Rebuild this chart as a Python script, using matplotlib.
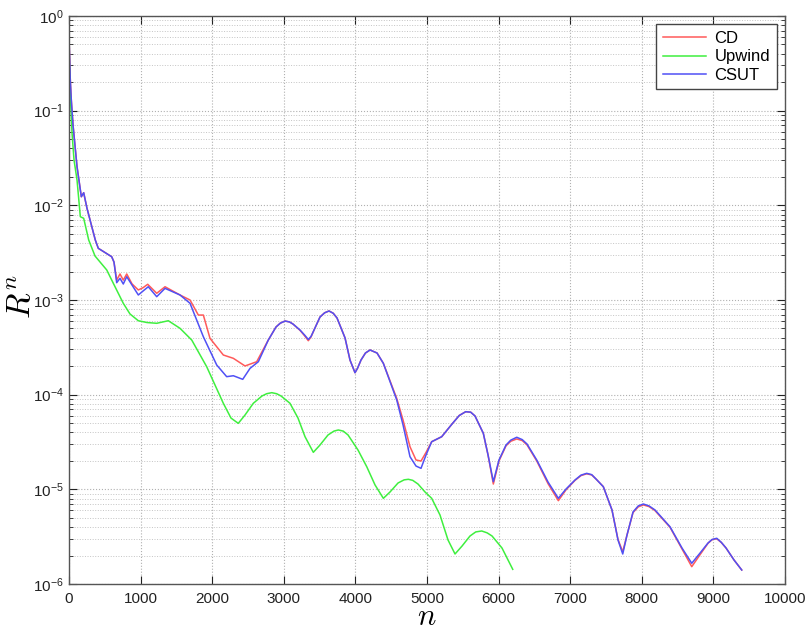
import matplotlib
matplotlib.use('Agg')
import numpy as np
import matplotlib.pyplot as plt
from matplotlib.ticker import LogLocator, NullFormatter, MultipleLocator

# residual history, stored as iteration n and log10(R^n)
n_csut = [4, 18, 32, 56, 112, 172, 205, 251, 367, 409, 596, 628, 666, 712, 758,
          806, 880, 968, 1034, 1107, 1225, 1341, 1550, 1690, 1876, 2063, 2202,
          2295, 2426, 2528, 2644, 2783, 2891, 2950, 3017, 3080, 3128, 3226, 3290,
          3342, 3380, 3422, 3505, 3570, 3631, 3690, 3743, 3855, 3924, 3994, 4030,
          4078, 4140, 4204, 4302, 4390, 4577, 4665, 4762, 4846, 4916, 4986, 5065,
          5205, 5349, 5450, 5540, 5610, 5670, 5786, 5852, 5926, 6005, 6103, 6170,
          6253, 6330, 6396, 6532, 6690, 6834, 6941, 7067, 7150, 7230, 7300, 7360,
          7462, 7583, 7667, 7733, 7793, 7877, 7950, 8021, 8100, 8184, 8393, 8561,
          8697, 8813, 8924, 8980, 9046, 9110, 9176, 9287, 9395]
log_csut = [-0.324, -0.676, -0.887, -1.152, -1.592, -1.909, -1.867, -2.031, -2.366,
            -2.454, -2.543, -2.599, -2.817, -2.771, -2.831, -2.754, -2.842, -2.947,
            -2.905, -2.860, -2.965, -2.877, -2.947, -3.035, -3.388, -3.687, -3.810,
            -3.800, -3.838, -3.722, -3.652, -3.423, -3.285, -3.245, -3.222, -3.232,
            -3.254, -3.317, -3.370, -3.417, -3.385, -3.317, -3.180, -3.135, -3.116,
            -3.140, -3.190, -3.401, -3.634, -3.768, -3.720, -3.634, -3.560, -3.528,
            -3.560, -3.669, -4.056, -4.320, -4.655, -4.754, -4.778, -4.637, -4.497,
            -4.444, -4.310, -4.220, -4.180, -4.185, -4.225, -4.408, -4.637, -4.919,
            -4.690, -4.532, -4.480, -4.450, -4.475, -4.521, -4.690, -4.923, -5.095,
            -4.997, -4.901, -4.850, -4.831, -4.845, -4.891, -4.972, -5.218, -5.535,
            -5.683, -5.482, -5.239, -5.175, -5.155, -5.175, -5.218, -5.395, -5.620,
            -5.781, -5.673, -5.567, -5.530, -5.517, -5.560, -5.620, -5.746, -5.852]

n_cd = [4, 18, 32, 56, 112, 172, 205, 251, 367, 409, 596, 628, 666, 712, 758,
        806, 880, 968, 1034, 1099, 1225, 1341, 1550, 1690, 1806, 1876, 1969, 2155,
        2295, 2458, 2621, 2783, 2891, 2950, 3017, 3080, 3128, 3226, 3290, 3342,
        3380, 3422, 3505, 3570, 3631, 3690, 3743, 3855, 3924, 3994, 4030, 4078,
        4140, 4204, 4302, 4390, 4577, 4665, 4762, 4846, 4916, 4986, 5065, 5205,
        5349, 5450, 5540, 5610, 5670, 5786, 5852, 5926, 6005, 6103, 6170, 6253,
        6330, 6396, 6532, 6690, 6834, 6941, 7067, 7150, 7230, 7300, 7360, 7462,
        7583, 7667, 7733, 7793, 7877, 7950, 8021, 8100, 8184, 8393, 8561, 8697,
        8813, 8924, 8980, 9046, 9110, 9176, 9287, 9395]
log_cd = [-0.324, -0.676, -0.887, -1.152, -1.592, -1.909, -1.867, -2.031, -2.366,
          -2.454, -2.543, -2.599, -2.789, -2.725, -2.790, -2.725, -2.830, -2.894,
          -2.870, -2.834, -2.929, -2.860, -2.947, -3.000, -3.159, -3.159, -3.405,
          -3.581, -3.616, -3.697, -3.652, -3.423, -3.285, -3.245, -3.222, -3.232,
          -3.254, -3.320, -3.378, -3.430, -3.390, -3.317, -3.180, -3.135, -3.116,
          -3.140, -3.190, -3.401, -3.634, -3.768, -3.720, -3.634, -3.560, -3.528,
          -3.560, -3.669, -4.040, -4.268, -4.550, -4.690, -4.701, -4.610, -4.497,
          -4.444, -4.310, -4.220, -4.180, -4.185, -4.225, -4.408, -4.637, -4.944,
          -4.700, -4.540, -4.492, -4.468, -4.485, -4.530, -4.700, -4.940, -5.120,
          -5.005, -4.905, -4.855, -4.836, -4.848, -4.891, -4.972, -5.218, -5.530,
          -5.659, -5.482, -5.245, -5.185, -5.165, -5.182, -5.225, -5.400, -5.630,
          -5.817, -5.690, -5.570, -5.532, -5.522, -5.562, -5.620, -5.746, -5.852]

n_upwind = [4, 18, 42, 70, 112, 158, 205, 275, 363, 527, 619, 758, 852, 968, 1089,
            1225, 1387, 1550, 1714, 1923, 2039, 2155, 2262, 2364, 2458, 2574, 2695,
            2760, 2831, 2900, 2961, 3086, 3198, 3296, 3412, 3505, 3617, 3700, 3761,
            3830, 3897, 4036, 4158, 4274, 4390, 4483, 4595, 4680, 4739, 4800, 4874,
            4972, 5065, 5181, 5293, 5391, 5489, 5600, 5680, 5764, 5840, 5908, 6047,
            6197]
log_upwind = [-0.500, -0.835, -1.236, -1.521, -1.733, -2.120, -2.137, -2.366, -2.535,
              -2.683, -2.824, -3.035, -3.148, -3.219, -3.238, -3.246, -3.219, -3.299,
              -3.423, -3.705, -3.898, -4.091, -4.247, -4.303, -4.215, -4.091, -4.014,
              -3.990, -3.979, -3.990, -4.014, -4.091, -4.247, -4.444, -4.609, -4.532,
              -4.426, -4.385, -4.373, -4.385, -4.426, -4.585, -4.761, -4.954, -5.095,
              -5.028, -4.933, -4.900, -4.894, -4.905, -4.944, -5.028, -5.095, -5.271,
              -5.535, -5.683, -5.599, -5.493, -5.450, -5.440, -5.460, -5.493, -5.620,
              -5.845]

plt.rcParams['font.family'] = ['Liberation Sans', 'DejaVu Sans']
plt.rcParams['mathtext.fontset'] = 'custom'
plt.rcParams['mathtext.rm'] = 'Liberation Sans'
plt.rcParams['mathtext.it'] = 'Liberation Sans:italic'
plt.rcParams['mathtext.bf'] = 'Liberation Sans:bold'

fig = plt.figure(figsize=(8.1, 6.25), dpi=100)
ax = fig.add_axes([0.0852, 0.0656, 0.8840, 0.9088])

ax.plot(n_cd, 10.0 ** np.array(log_cd), color='#ff5a5a', lw=1.1, label='CD')
ax.plot(n_upwind, 10.0 ** np.array(log_upwind), color='#3fef3f', lw=1.1, label='Upwind')
ax.plot(n_csut, 10.0 ** np.array(log_csut), color='#5050f5', lw=1.1, label='CSUT')

ax.set_yscale('log')
ax.set_xlim(0, 10000)
ax.set_ylim(1e-6, 1e0)
ax.xaxis.set_major_locator(MultipleLocator(1000))
ax.yaxis.set_major_locator(LogLocator(base=10, numticks=10))
ax.yaxis.set_minor_locator(LogLocator(base=10, subs=np.arange(2, 10), numticks=20))
ax.yaxis.set_minor_formatter(NullFormatter())

ax.grid(True, which='major', color='#b0b0b0', ls=':', lw=0.8)
ax.grid(True, which='minor', axis='y', color='#c4c4c4', ls=':', lw=0.7)
ax.set_axisbelow(True)

ax.tick_params(which='both', direction='in', top=True, right=True,
               labelsize=11, colors='#222222')
ax.tick_params(which='major', length=6)
ax.tick_params(which='minor', length=3)
ax.tick_params(axis='x', pad=6)
ax.tick_params(axis='y', pad=4)
for s in ax.spines.values():
    s.set_color('#555555')
    s.set_linewidth(1.0)

ax.set_xlabel('$n$', fontsize=22, math_fontfamily='cm')
ax.xaxis.set_label_coords(0.5, -0.031)
ax.set_ylabel('$R^n$', fontsize=24, math_fontfamily='cm')
ax.yaxis.set_label_coords(-0.044, 0.505)

leg = ax.legend(loc='upper right', fontsize=12, fancybox=False, framealpha=1,
                edgecolor='#444444', handlelength=2.6, borderpad=0.4,
                labelspacing=0.2, handletextpad=0.5, borderaxespad=0.5)
leg.get_frame().set_linewidth(1.0)

fig.savefig('out.png', dpi=100)
